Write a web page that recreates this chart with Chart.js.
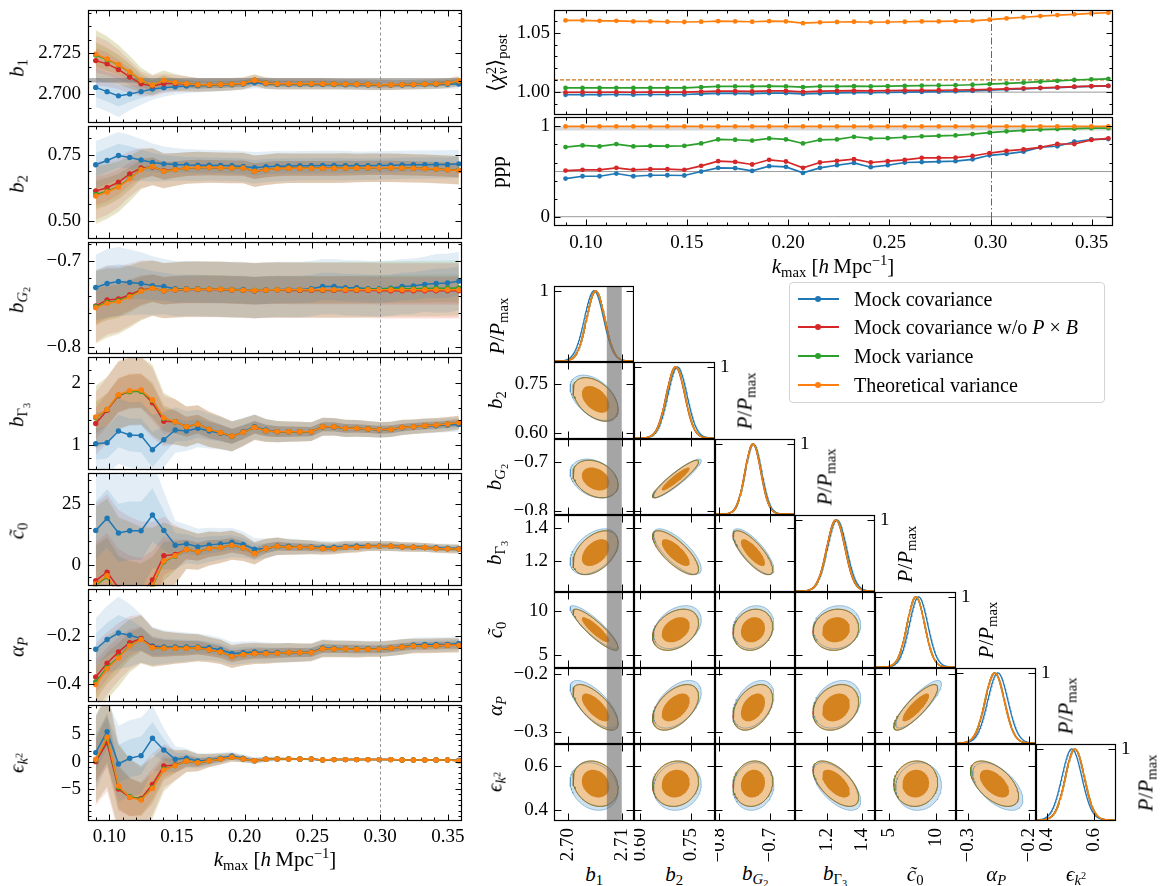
<!DOCTYPE html>
<html>
<head>
<meta charset="utf-8">
<script src="https://cdn.jsdelivr.net/npm/chart.js@4.4.1/dist/chart.umd.min.js"></script>
<style>
body { margin: 0; background: #fff; }
#fig { position: relative; width: 1163px; height: 886px; overflow: hidden; font-family: 'Liberation Serif', 'DejaVu Serif', serif; color: #000; }
#fig canvas { position: absolute; }
.lab { position: absolute; white-space: nowrap; line-height: 1; }
.lab sub { font-size: 70%; vertical-align: -0.3em; line-height: 0; }
.lab sup { font-size: 70%; vertical-align: 0.5em; line-height: 0; }
#legend { position: absolute; left: 789px; top: 282px; width: 314px; height: 119px; border: 1px solid #d4d4d4; border-radius: 4px; background: rgba(255,255,255,0.85); }
#legend .row { position: absolute; left: 0; height: 0; }
#legend .ln { position: absolute; left: 8px; width: 41px; height: 2px; top: -1px; }
#legend .dot { position: absolute; left: 25px; width: 6px; height: 6px; top: -3px; border-radius: 50%; }
#legend .tx { position: absolute; left: 64px; top: -12px; font-size: 20px; white-space: nowrap; line-height: 24px; }
</style>
</head>
<body>
<div id="fig"></div>
<script>
// ---------- data: k_max bins ----------
const kmax = [0.0900,0.0984,0.1068,0.1151,0.1235,0.1319,0.1403,0.1487,0.1570,0.1654,
  0.1738,0.1822,0.1906,0.1989,0.2073,0.2157,0.2241,0.2325,0.2408,0.2492,
  0.2576,0.2660,0.2744,0.2827,0.2911,0.2995,0.3079,0.3163,0.3246,0.3330,
  0.3414,0.3498,0.3582];
const kTicks = [0.10, 0.15, 0.20, 0.25, 0.30, 0.35];
const kCut = 0.30;

// b1
const b1Blue = [2.7042,2.7016,2.6990,2.7002,2.7016,2.7032,2.7040,2.7046,2.7050,2.7052,2.7054,
  2.7056,2.7058,2.7062,2.7070,2.7064,2.7060,2.7060,2.7060,2.7060,2.7060,2.7059,
  2.7058,2.7058,2.7057,2.7056,2.7056,2.7057,2.7058,2.7059,2.7060,2.7061,2.7062];
const b1Red = [2.7206,2.7186,2.7152,2.7106,2.7064,2.7050,2.7066,2.7066,2.7062,2.7058,2.7058,
  2.7060,2.7062,2.7066,2.7084,2.7068,2.7064,2.7064,2.7064,2.7064,2.7064,2.7063,
  2.7062,2.7061,2.7060,2.7058,2.7058,2.7059,2.7060,2.7062,2.7064,2.7067,2.7078];
const b1Green = [2.7240,2.7212,2.7180,2.7134,2.7084,2.7056,2.7085,2.7072,2.7064,2.7058,2.7058,
  2.7060,2.7062,2.7066,2.7086,2.7068,2.7064,2.7064,2.7064,2.7064,2.7064,2.7063,
  2.7062,2.7061,2.7060,2.7058,2.7058,2.7059,2.7060,2.7062,2.7064,2.7068,2.7080];
const b1Orange = [2.7246,2.7216,2.7182,2.7136,2.7086,2.7056,2.7086,2.7072,2.7064,2.7058,2.7058,
  2.7060,2.7062,2.7066,2.7086,2.7068,2.7064,2.7064,2.7064,2.7064,2.7064,2.7063,
  2.7062,2.7061,2.7060,2.7058,2.7058,2.7059,2.7060,2.7062,2.7064,2.7068,2.7082];
const b1SigBlue = [0.0060,0.0060,0.0065,0.0050,0.0040,0.0033,0.0028,0.0024,0.0022,0.0020,0.0020,
  0.0019,0.0018,0.0017,0.0017,0.0016,0.0016,0.0016,0.0016,0.0016,0.0016,0.0016,
  0.0016,0.0016,0.0016,0.0016,0.0015,0.0015,0.0015,0.0015,0.0014,0.0014,0.0014];
const b1SigOrange = [0.0075,0.0070,0.0060,0.0050,0.0038,0.0032,0.0030,0.0026,0.0023,0.0021,0.0020,
  0.0020,0.0019,0.0018,0.0018,0.0017,0.0017,0.0017,0.0017,0.0017,0.0017,0.0016,
  0.0016,0.0016,0.0016,0.0016,0.0016,0.0015,0.0015,0.0015,0.0015,0.0015,0.0015];
const b1Truth = [2.7072, 2.7100];
const b1Ticks = [2.700, 2.725];

// b2
const b2Blue = [0.7125,0.7290,0.7475,0.7400,0.7310,0.7210,0.7160,0.7140,0.7120,0.7110,0.7110,
  0.7100,0.7090,0.7060,0.7010,0.7050,0.7070,0.7080,0.7090,0.7090,0.7100,0.7100,
  0.7090,0.7090,0.7090,0.7100,0.7110,0.7120,0.7130,0.7130,0.7140,0.7140,0.7160];
const b2Red = [0.613,0.625,0.646,0.678,0.700,0.704,0.690,0.695,0.700,0.702,0.702,
  0.701,0.700,0.700,0.688,0.694,0.698,0.699,0.699,0.699,0.699,0.699,
  0.700,0.700,0.701,0.701,0.701,0.700,0.699,0.698,0.696,0.694,0.691];
const b2Green = [0.600,0.612,0.630,0.661,0.695,0.706,0.688,0.694,0.700,0.702,0.702,
  0.701,0.700,0.700,0.688,0.694,0.698,0.699,0.699,0.699,0.699,0.699,
  0.700,0.700,0.701,0.701,0.701,0.700,0.699,0.698,0.696,0.694,0.692];
const b2Orange = [0.594,0.609,0.628,0.659,0.694,0.706,0.688,0.694,0.700,0.702,0.702,
  0.701,0.700,0.700,0.688,0.694,0.698,0.699,0.699,0.699,0.699,0.699,
  0.700,0.700,0.701,0.701,0.701,0.700,0.699,0.698,0.696,0.694,0.691];
const b2SigBlue = [0.045,0.045,0.045,0.043,0.040,0.036,0.033,0.031,0.030,0.030,0.029,
  0.029,0.029,0.029,0.030,0.029,0.029,0.028,0.028,0.028,0.028,0.028,
  0.028,0.027,0.027,0.027,0.027,0.027,0.027,0.027,0.027,0.027,0.027];
const b2SigOrange = [0.055,0.052,0.048,0.043,0.038,0.035,0.033,0.031,0.030,0.030,0.029,
  0.029,0.029,0.029,0.030,0.029,0.029,0.028,0.028,0.028,0.028,0.028,
  0.028,0.027,0.027,0.027,0.027,0.027,0.027,0.027,0.027,0.027,0.027];
const b2Ticks = [0.50, 0.75];

// b_G2
const bG2Blue = [-0.7307,-0.7260,-0.7237,-0.7248,-0.7260,-0.7285,-0.7296,-0.7320,-0.7320,-0.7320,-0.7325,
  -0.7330,-0.7330,-0.7330,-0.7345,-0.7335,-0.7330,-0.7330,-0.7330,-0.7320,-0.7296,-0.7296,
  -0.7310,-0.7310,-0.7320,-0.7322,-0.7315,-0.7296,-0.7290,-0.7270,-0.7260,-0.7255,-0.7233];
const bG2Red = [-0.7520,-0.7450,-0.7440,-0.7390,-0.7335,-0.7315,-0.7344,-0.7335,-0.7330,-0.7330,-0.7330,
  -0.7330,-0.7335,-0.7340,-0.7345,-0.7340,-0.7337,-0.7340,-0.7340,-0.7340,-0.7340,-0.7340,
  -0.7340,-0.7340,-0.7340,-0.7345,-0.7345,-0.7345,-0.7345,-0.7345,-0.7345,-0.7345,-0.7345];
const bG2Green = [-0.7530,-0.7480,-0.7460,-0.7410,-0.7348,-0.7315,-0.7344,-0.7333,-0.7326,-0.7326,-0.7326,
  -0.7326,-0.7333,-0.7337,-0.7341,-0.7337,-0.7333,-0.7333,-0.7333,-0.7333,-0.7333,-0.7333,
  -0.7330,-0.7330,-0.7328,-0.7325,-0.7322,-0.7320,-0.7320,-0.7318,-0.7316,-0.7314,-0.7312];
const bG2Orange = [-0.7540,-0.7490,-0.7470,-0.7415,-0.7350,-0.7315,-0.7344,-0.7333,-0.7326,-0.7326,-0.7326,
  -0.7326,-0.7333,-0.7337,-0.7341,-0.7337,-0.7333,-0.7333,-0.7333,-0.7333,-0.7333,-0.7333,
  -0.7333,-0.7333,-0.7333,-0.7333,-0.7333,-0.7333,-0.7333,-0.7333,-0.7333,-0.7333,-0.7333];
const bG2SigBlue = [0.019,0.020,0.020,0.019,0.018,0.017,0.016,0.016,0.016,0.016,0.016,
  0.016,0.016,0.016,0.016,0.016,0.016,0.016,0.016,0.016,0.016,0.016,
  0.016,0.016,0.016,0.016,0.016,0.016,0.016,0.016,0.017,0.017,0.017];
const bG2SigOrange = [0.021,0.020,0.019,0.018,0.017,0.016,0.016,0.016,0.016,0.016,0.016,
  0.016,0.016,0.016,0.016,0.016,0.016,0.016,0.016,0.016,0.016,0.016,
  0.016,0.016,0.016,0.016,0.016,0.016,0.016,0.016,0.016,0.016,0.016];
const bG2Ticks = [-0.8, -0.7];

// b_Gamma3
const bT3Blue = [1.026,1.042,1.229,1.167,1.156,0.932,1.089,1.245,1.229,1.271,1.229,
  1.193,1.141,1.219,1.297,1.245,1.219,1.219,1.219,1.219,1.297,1.292,
  1.271,1.271,1.260,1.245,1.255,1.281,1.297,1.307,1.313,1.323,1.333];
const bT3Red = [1.349,1.560,1.790,1.860,1.865,1.677,1.385,1.375,1.297,1.339,1.255,
  1.203,1.146,1.208,1.286,1.234,1.219,1.219,1.219,1.219,1.297,1.297,
  1.271,1.271,1.260,1.250,1.255,1.286,1.297,1.313,1.323,1.339,1.360];
const bT3Green = [1.440,1.570,1.800,1.855,1.860,1.715,1.430,1.375,1.297,1.339,1.255,
  1.203,1.146,1.208,1.286,1.234,1.219,1.219,1.219,1.219,1.297,1.297,
  1.271,1.271,1.260,1.250,1.255,1.286,1.297,1.313,1.323,1.339,1.362];
const bT3Orange = [1.453,1.573,1.807,1.870,1.880,1.724,1.438,1.375,1.297,1.339,1.255,
  1.203,1.146,1.208,1.286,1.234,1.219,1.219,1.219,1.219,1.297,1.297,
  1.271,1.271,1.260,1.250,1.255,1.286,1.297,1.313,1.323,1.339,1.365];
const bT3SigBlue = [0.25,0.25,0.26,0.26,0.27,0.28,0.22,0.18,0.16,0.15,0.14,
  0.13,0.12,0.11,0.10,0.090,0.085,0.080,0.078,0.075,0.072,0.070,
  0.068,0.066,0.064,0.062,0.060,0.060,0.058,0.058,0.056,0.056,0.055];
const bT3SigOrange = [0.25,0.26,0.27,0.27,0.27,0.28,0.20,0.18,0.16,0.15,0.14,
  0.13,0.12,0.11,0.10,0.090,0.085,0.080,0.078,0.075,0.072,0.070,
  0.068,0.066,0.064,0.062,0.060,0.060,0.058,0.058,0.056,0.056,0.055];
const bT3Ticks = [1, 2];

// c0
const c0Blue = [14.19,19.19,13.11,14.05,14.05,20.54,14.19,8.11,8.65,7.43,8.24,
  8.65,9.19,8.38,6.49,6.76,7.70,7.70,7.30,7.43,7.30,7.30,
  7.57,7.84,7.84,7.84,7.70,7.43,7.30,7.16,7.03,6.90,6.76];
const c0Red = [-6.49,-2.97,-9.46,-12.16,-12.16,-6.22,3.78,4.32,6.35,5.41,6.76,
  7.16,8.11,7.03,4.73,6.76,7.70,7.30,7.30,7.16,6.76,6.76,
  7.30,7.30,7.70,7.70,7.70,7.43,7.30,7.16,6.76,6.60,6.49];
const c0Green = [-8.30,-4.90,-12.50,-14.50,-14.50,-8.80,1.30,3.60,6.35,5.41,6.76,
  7.16,8.11,7.03,4.73,6.76,7.70,7.30,7.30,7.16,6.76,6.76,
  7.30,7.30,7.70,7.70,7.70,7.43,7.30,7.16,6.76,6.60,6.49];
const c0Orange = [-7.84,-4.46,-12.16,-14.19,-14.19,-8.38,1.62,3.78,6.35,5.41,6.76,
  7.16,8.11,7.03,4.73,6.76,7.70,7.30,7.30,7.16,6.76,6.76,
  7.30,7.30,7.70,7.70,7.70,7.43,7.30,7.16,6.76,6.60,6.49];
const c0SigBlue = [12,12,12,12,12,11,8,5,4,3.7,3.5,
  3.2,3.0,2.7,2.3,2.0,1.8,1.6,1.5,1.4,1.3,1.2,
  1.2,1.1,1.0,1.0,1.0,0.95,0.95,0.9,0.9,0.9,0.9];
const c0SigOrange = [16,16,16,16,15,12,8,6,4,3.7,3.5,
  3.2,3.0,2.7,2.3,2.0,1.8,1.6,1.5,1.4,1.3,1.2,
  1.2,1.1,1.0,1.0,1.0,0.95,0.95,0.9,0.9,0.9,0.9];
const c0Ticks = [0, 25];

// alpha_P
const aPBlue = [-0.2541,-0.2135,-0.1865,-0.1959,-0.2095,-0.2405,-0.2446,-0.2446,-0.2446,-0.2446,-0.2480,
  -0.2560,-0.2716,-0.2680,-0.2649,-0.2676,-0.2676,-0.2676,-0.2676,-0.2649,-0.2486,-0.2500,
  -0.2514,-0.2514,-0.2514,-0.2514,-0.2500,-0.2432,-0.2365,-0.2338,-0.2338,-0.2338,-0.2297];
const aPRed = [-0.369,-0.312,-0.265,-0.227,-0.2095,-0.2446,-0.2500,-0.2500,-0.2500,-0.2473,-0.2560,
  -0.2649,-0.2838,-0.2757,-0.2716,-0.2716,-0.2703,-0.2676,-0.2676,-0.2676,-0.2514,-0.2527,
  -0.2527,-0.2541,-0.2541,-0.2541,-0.2500,-0.2446,-0.2405,-0.2405,-0.2392,-0.2378,-0.2378];
const aPGreen = [-0.390,-0.330,-0.287,-0.238,-0.2135,-0.2473,-0.2500,-0.2500,-0.2500,-0.2473,-0.2560,
  -0.2649,-0.2838,-0.2757,-0.2716,-0.2716,-0.2703,-0.2676,-0.2676,-0.2676,-0.2514,-0.2527,
  -0.2527,-0.2541,-0.2541,-0.2541,-0.2500,-0.2446,-0.2405,-0.2405,-0.2392,-0.2378,-0.2378];
const aPOrange = [-0.400,-0.335,-0.2905,-0.2405,-0.2135,-0.2473,-0.2500,-0.2500,-0.2500,-0.2473,-0.2560,
  -0.2649,-0.2838,-0.2757,-0.2716,-0.2716,-0.2703,-0.2676,-0.2676,-0.2676,-0.2514,-0.2527,
  -0.2527,-0.2541,-0.2541,-0.2541,-0.2500,-0.2446,-0.2405,-0.2405,-0.2392,-0.2378,-0.2378];
const aPSigBlue = [0.065,0.070,0.075,0.065,0.050,0.040,0.035,0.032,0.030,0.028,0.026,
  0.025,0.024,0.023,0.022,0.021,0.020,0.020,0.019,0.018,0.018,0.017,
  0.017,0.017,0.016,0.016,0.016,0.016,0.015,0.015,0.015,0.015,0.015];
const aPSigOrange = [0.070,0.065,0.060,0.055,0.050,0.040,0.035,0.032,0.030,0.028,0.026,
  0.025,0.024,0.023,0.022,0.021,0.020,0.020,0.019,0.018,0.018,0.017,
  0.017,0.017,0.016,0.016,0.016,0.016,0.015,0.015,0.015,0.015,0.015];
const aPTicks = [-0.4, -0.2];

// eps_k2
const ek2Blue = [1.66,5.52,-0.43,0.61,1.10,4.29,2.15,0.43,0.61,0.12,0.31,
  0.61,1.04,0.61,0.18,0.43,0.49,0.49,0.43,0.43,0.31,0.37,
  0.37,0.37,0.37,0.37,0.37,0.31,0.31,0.31,0.31,0.31,0.25];
const ek2Red = [0.00,3.50,-5.03,-6.56,-6.75,-4.17,-0.80,-0.61,0.12,-0.18,0.18,
  0.49,0.80,0.49,0.18,0.43,0.49,0.49,0.49,0.49,0.31,0.37,
  0.37,0.37,0.37,0.37,0.37,0.31,0.31,0.31,0.31,0.31,0.18];
const ek2Green = [0.30,4.30,-4.70,-6.40,-6.90,-4.80,-1.40,-0.70,0.12,-0.18,0.18,
  0.49,0.80,0.49,0.18,0.43,0.49,0.49,0.49,0.49,0.31,0.37,
  0.37,0.37,0.37,0.37,0.37,0.31,0.31,0.31,0.31,0.31,0.18];
const ek2Orange = [0.43,4.48,-4.48,-6.56,-7.06,-4.91,-1.53,-0.74,0.12,-0.18,0.18,
  0.49,0.80,0.49,0.18,0.43,0.49,0.49,0.49,0.49,0.31,0.37,
  0.37,0.37,0.37,0.37,0.37,0.31,0.31,0.31,0.31,0.31,0.18];
const ek2SigBlue = [3.5,3.0,3.5,3.5,3.5,3.0,2.0,1.2,0.9,0.7,0.6,
  0.5,0.4,0.35,0.3,0.25,0.2,0.15,0.12,0.1,0.08,0.07,
  0.06,0.06,0.05,0.05,0.05,0.05,0.05,0.05,0.05,0.05,0.05];
const ek2SigOrange = [4.0,4.5,4.0,3.5,3.0,2.8,2.0,1.4,1.0,0.8,0.6,
  0.5,0.4,0.3,0.25,0.2,0.15,0.12,0.1,0.08,0.07,0.06,
  0.06,0.05,0.05,0.05,0.05,0.05,0.05,0.05,0.05,0.05,0.05];
const ek2Ticks = [-5, 0, 5];

// reduced chi2 and ppp
const chi2Blue = [0.9978,0.9979,0.9979,0.9980,0.9979,0.9980,0.9980,0.9980,0.9985,0.9990,0.9990,
  0.9988,0.9992,0.9992,0.9985,0.9990,0.9993,0.9996,0.9995,0.9998,1.0000,1.0002,
  1.0004,1.0007,1.0010,1.0016,1.0022,1.0028,1.0034,1.0038,1.0044,1.0049,1.0052];
const chi2Red = [0.9998,0.9999,0.9999,1.0000,0.9999,1.0000,1.0000,1.0000,1.0005,1.0008,1.0008,
  1.0006,1.0010,1.0010,1.0003,1.0008,1.0010,1.0012,1.0010,1.0012,1.0014,1.0015,
  1.0016,1.0018,1.0020,1.0024,1.0028,1.0032,1.0036,1.0040,1.0046,1.0050,1.0053];
const chi2Green = [1.0035,1.0035,1.0035,1.0036,1.0035,1.0035,1.0035,1.0036,1.0042,1.0048,1.0048,
  1.0048,1.0050,1.0048,1.0042,1.0048,1.0048,1.0050,1.0048,1.0050,1.0052,1.0054,
  1.0056,1.0058,1.0062,1.0068,1.0074,1.0080,1.0088,1.0095,1.0102,1.0108,1.0112];
const chi2Orange = [1.0603,1.0603,1.0600,1.0600,1.0595,1.0595,1.0592,1.0590,1.0592,1.0597,1.0595,
  1.0592,1.0597,1.0595,1.0580,1.0587,1.0590,1.0592,1.0588,1.0590,1.0592,1.0595,
  1.0595,1.0597,1.0600,1.0610,1.0620,1.0630,1.0640,1.0648,1.0655,1.0662,1.0668];
const chi2Unity = 1.0;
const chi2Expected = 1.0103;
const chi2Ticks = [1.00, 1.05];

const pppBlue = [0.422,0.448,0.448,0.478,0.448,0.459,0.459,0.456,0.500,0.541,0.537,
  0.507,0.559,0.552,0.485,0.541,0.570,0.596,0.548,0.570,0.600,0.605,
  0.610,0.615,0.635,0.680,0.695,0.720,0.770,0.780,0.830,0.855,0.860];
const pppRed = [0.511,0.519,0.519,0.541,0.519,0.526,0.526,0.519,0.563,0.615,0.607,
  0.578,0.630,0.611,0.541,0.600,0.619,0.637,0.600,0.615,0.630,0.652,
  0.652,0.655,0.672,0.705,0.728,0.745,0.768,0.805,0.805,0.850,0.868];
const pppGreen = [0.771,0.789,0.778,0.804,0.778,0.785,0.782,0.785,0.811,0.856,0.852,
  0.843,0.867,0.856,0.811,0.850,0.856,0.885,0.867,0.870,0.880,0.890,
  0.895,0.900,0.915,0.930,0.945,0.955,0.965,0.970,0.975,0.980,0.980];
const pppOrange = [1,1,1,1,1,1,1,1,1,1,1,
  1,1,1,1,1,1,1,1,1,1,1,
  1,1,1,1,1,1,1,1,1,1,1];
const pppLevels = [0, 0.5];
const pppBand = [0.955, 1.0];
const pppTicks = [0, 1];

// corner plot at k_max = 0.30: b1, b2, bG2, bG3, c0, alphaP, eps_k2
const cornerMeanBlue   = [2.7048, 0.709, -0.733, 1.258, 8.15, -0.2515, 0.506];
const cornerMeanRed    = [2.7051, 0.703, -0.7345, 1.250, 7.85, -0.2565, 0.518];
const cornerMeanGreen  = [2.7051, 0.704, -0.734, 1.252, 7.85, -0.257, 0.519];
const cornerMeanOrange = [2.7051, 0.704, -0.734, 1.252, 7.85, -0.257, 0.519];
const cornerSigBlue = [0.0018, 0.028, 0.016, 0.055, 0.97, 0.0165, 0.043];
const cornerSig     = [0.0017, 0.027, 0.0155, 0.053, 0.93, 0.0158, 0.041];
const cornerCorr = [
  [1],
  [-0.45, 1],
  [-0.30, 0.92, 1],
  [0.45, -0.75, -0.78, 1],
  [-0.88, 0.35, 0.15, 0.10, 1],
  [-0.70, 0.50, 0.40, 0.25, 0.85, 1],
  [-0.20, 0.10, 0.10, -0.60, 0.05, -0.55, 1]
];
const cornerTicks = [[2.70, 2.71], [0.60, 0.75], [-0.8, -0.7], [1.2, 1.4], [5, 10], [-0.3, -0.2], [0.4, 0.6]];
const legendNames = ['Mock covariance', 'Mock covariance w/o <i>P</i> \u00d7 <i>B</i>', 'Mock variance', 'Theoretical variance'];

// ---------- styling / helpers ----------
Chart.defaults.font.family = "'Liberation Serif', 'DejaVu Serif', serif";
Chart.defaults.font.size = 19;
Chart.defaults.color = '#000';

const fig = document.getElementById('fig');
const COLS = ['#1f77b4', '#d62728', '#2ca02c', '#ff7f0e'];
const NONE = 'rgba(0,0,0,0)';
const DASH = {dash: [3, 2.5], dashdot: [7, 2.5, 1.5, 2.5]};

function rgba(hex, a) {
  const n = parseInt(hex.slice(1), 16);
  return 'rgba(' + (n >> 16) + ',' + ((n >> 8) & 255) + ',' + (n & 255) + ',' + a + ')';
}
function fmt(v, d) {
  return (v < -1e-12 ? '\u2212' : '') + Math.abs(v).toFixed(d);
}

// frame with inward ticks on chosen sides + optional vertical marker
const framePlugin = {
  id: 'frame',
  afterDatasetsDraw(chart, args, o) {
    const ctx = chart.ctx, a = chart.chartArea, xs = chart.scales.x, ys = chart.scales.y;
    const L = Math.round(a.left) + 0.5, R = Math.round(a.right) - 0.5;
    const T = Math.round(a.top) + 0.5, B = Math.round(a.bottom) - 0.5;
    const seg = (x1, y1, x2, y2) => { ctx.beginPath(); ctx.moveTo(x1, y1); ctx.lineTo(x2, y2); ctx.stroke(); };
    ctx.save();
    if (o.vline != null) {
      const p = Math.round(xs.getPixelForValue(o.vline)) + 0.5;
      ctx.strokeStyle = o.vcolor; ctx.lineWidth = 0.9; ctx.setLineDash(DASH[o.vstyle]);
      seg(p, T, p, B);
      ctx.setLineDash([]);
    }
    ctx.strokeStyle = '#000'; ctx.lineWidth = 1;
    const xt = (v, len) => {
      const p = Math.round(xs.getPixelForValue(v)) + 0.5;
      if (p < L + 2 || p > R - 2) return;
      if (o.xSides.indexOf('b') >= 0) seg(p, B, p, B - len);
      if (o.xSides.indexOf('t') >= 0) seg(p, T, p, T + len);
    };
    const yt = (v, len) => {
      const p = Math.round(ys.getPixelForValue(v)) + 0.5;
      if (p < T + 2 || p > B - 2) return;
      if (o.ySides.indexOf('l') >= 0) seg(L, p, L + len, p);
      if (o.ySides.indexOf('r') >= 0) seg(R, p, R - len, p);
    };
    xs.ticks.forEach(t => xt(t.value, o.major));
    ys.ticks.forEach(t => yt(t.value, o.major));
    if (o.xMinor) for (let i = Math.ceil(xs.min / o.xMinor - 1e-6); i * o.xMinor <= xs.max; i++) xt(i * o.xMinor, o.minor);
    if (o.yMinor) for (let i = Math.ceil(ys.min / o.yMinor - 1e-6); i * o.yMinor <= ys.max; i++) yt(i * o.yMinor, o.minor);
    ctx.lineWidth = 1.2;
    ctx.strokeRect(L, T, R - L, B - T);
    ctx.restore();
  }
};

function axis(a, size, isX) {
  return {
    type: 'linear', position: a.pos || (isX ? 'bottom' : 'left'), min: a.min, max: a.max,
    grid: {display: false, drawTicks: false}, border: {display: false},
    ticks: {display: !!a.show, autoSkip: false, padding: a.pad == null ? 5 : a.pad,
      minRotation: a.rot || 0, maxRotation: a.rot || 0, color: '#000', font: {size: 19},
      callback: v => fmt(v, a.dec)},
    afterBuildTicks: s => { s.ticks = a.ticks.map(v => ({value: v})); },
    afterFit: s => {
      if (isX) s.height = size; else s.width = size;
      s.paddingLeft = 0; s.paddingRight = 0; s.paddingTop = 0; s.paddingBottom = 0;
    }
  };
}

function panel(o) {
  const W = o.w + o.ml + o.mr, H = o.h + o.mt + o.mb;
  const cv = document.createElement('canvas');
  cv.width = W; cv.height = H;
  cv.style.left = (o.x - o.ml) + 'px'; cv.style.top = (o.y - o.mt) + 'px';
  cv.style.width = W + 'px'; cv.style.height = H + 'px';
  fig.appendChild(cv);
  const yRight = o.y_.pos === 'right';
  return new Chart(cv, {
    type: 'line',
    data: {datasets: o.datasets},
    options: {
      responsive: false, animation: false, devicePixelRatio: 1, events: [],
      layout: {padding: {left: yRight ? o.ml : 0, right: yRight ? 0 : o.mr, top: o.mt, bottom: 0}},
      plugins: {legend: {display: false}, tooltip: {enabled: false}, frame: o.frame},
      scales: {x: axis(o.x_, o.mb, true), y: axis(o.y_, yRight ? o.mr : o.ml, false)}
    },
    plugins: [framePlugin]
  });
}

function addLabel(html, cx, cy, rot, size) {
  const d = document.createElement('div');
  d.className = 'lab';
  d.innerHTML = html;
  d.style.left = cx + 'px'; d.style.top = cy + 'px';
  d.style.fontSize = (size || 21) + 'px';
  d.style.transform = 'translate(-50%,-50%) rotate(' + (rot || 0) + 'deg)';
  fig.appendChild(d);
}

function lineSet(vals, color, order, r, w) {
  return {data: kmax.map((k, i) => ({x: k, y: vals[i]})), borderColor: color, backgroundColor: color,
    borderWidth: w || 1.5, pointRadius: r || 2.7, pointBorderWidth: 0, pointHoverRadius: 0, fill: false, order: order};
}
function flatSet(yv, color, order, dash, w) {
  return {data: [{x: kRange[0], y: yv}, {x: kRange[1], y: yv}], borderColor: color, borderWidth: w || 1,
    borderDash: dash || [], pointRadius: 0, fill: false, order: order};
}

// ---------- left column: parameters vs k_max ----------
const kRange = [0.0843, 0.3605];
const leftPanels = [
  {lab: '<i>b</i><sub>1</sub>', range: [2.6822, 2.7516], ticks: b1Ticks, dec: 3, minor: 0.025 / 3,
   mean: [b1Blue, b1Red, b1Green, b1Orange], sig: [b1SigBlue, b1SigOrange, b1SigOrange, b1SigOrange], band: b1Truth},
  {lab: '<i>b</i><sub>2</sub>', range: [0.429, 0.86], ticks: b2Ticks, dec: 2, minor: 0.0625,
   mean: [b2Blue, b2Red, b2Green, b2Orange], sig: [b2SigBlue, b2SigOrange, b2SigOrange, b2SigOrange]},
  {lab: '<i>b</i><sub><i>G</i><sub>2</sub></sub>', range: [-0.808, -0.678], ticks: bG2Ticks, dec: 1, minor: 0.02,
   mean: [bG2Blue, bG2Red, bG2Green, bG2Orange], sig: [bG2SigBlue, bG2SigOrange, bG2SigOrange, bG2SigOrange]},
  {lab: '<i>b</i><sub>\u0393<sub>3</sub></sub>', range: [0.604, 2.406], ticks: bT3Ticks, dec: 0, minor: 0.2,
   mean: [bT3Blue, bT3Red, bT3Green, bT3Orange], sig: [bT3SigBlue, bT3SigOrange, bT3SigOrange, bT3SigOrange]},
  {lab: '<i>c\u0303</i><sub>0</sub>', range: [-8.8, 37.8], ticks: c0Ticks, dec: 0, minor: 5,
   mean: [c0Blue, c0Red, c0Green, c0Orange], sig: [c0SigBlue, c0SigOrange, c0SigOrange, c0SigOrange]},
  {lab: '<i>\u03b1</i><sub><i>P</i></sub>', range: [-0.474, -0.004], ticks: aPTicks, dec: 1, minor: 0.05,
   mean: [aPBlue, aPRed, aPGreen, aPOrange], sig: [aPSigBlue, aPSigOrange, aPSigOrange, aPSigOrange]},
  {lab: '<i>\u03f5</i><sub><i>k</i><sup>2</sup></sub>', range: [-10.9, 10.4], ticks: ek2Ticks, dec: 0, minor: 1,
   mean: [ek2Blue, ek2Red, ek2Green, ek2Orange], sig: [ek2SigBlue, ek2SigOrange, ek2SigOrange, ek2SigOrange]}
];

function leftDatasets(p) {
  const ds = [];
  p.mean.forEach((m, s) => {
    [2, 1].forEach(n => {
      ds.push({data: kmax.map((k, i) => ({x: k, y: m[i] + n * p.sig[s][i]})), borderColor: NONE, borderWidth: 0,
        pointRadius: 0, fill: false, order: 50});
      ds.push({data: kmax.map((k, i) => ({x: k, y: m[i] - n * p.sig[s][i]})), borderColor: NONE, borderWidth: 0,
        pointRadius: 0, fill: '-1', backgroundColor: rgba(COLS[s], 0.13), order: 50});
    });
  });
  if (p.band) {
    ds.push({data: kRange.map(k => ({x: k, y: p.band[1]})), borderColor: NONE, borderWidth: 0, pointRadius: 0, fill: false, order: 20});
    ds.push({data: kRange.map(k => ({x: k, y: p.band[0]})), borderColor: NONE, borderWidth: 0, pointRadius: 0, fill: '-1',
      backgroundColor: 'rgba(120,120,120,0.55)', order: 20});
  }
  p.mean.forEach((m, s) => ds.push(lineSet(m, COLS[s], 4 - s)));
  return ds;
}

const LX = 88, LW = 374, LT = 10, LH = 115.8;
leftPanels.forEach((p, i) => {
  const top = Math.round(LT + i * LH), bot = Math.round(LT + (i + 1) * LH);
  const last = i === leftPanels.length - 1;
  panel({x: LX, y: top, w: LW, h: bot - top, ml: 88, mr: 8, mt: 4, mb: last ? 40 : 0,
    datasets: leftDatasets(p),
    x_: {min: kRange[0], max: kRange[1], ticks: kTicks, dec: 2, show: last, pad: 5},
    y_: {min: p.range[0], max: p.range[1], ticks: p.ticks, dec: p.dec, show: true, pad: 7},
    frame: {major: 6, minor: 3, xMinor: 0.01, yMinor: p.minor, xSides: 'tb', ySides: 'lr',
      vline: kCut, vstyle: 'dash', vcolor: '#8a8a8a'}});
  addLabel(p.lab, 17, (top + bot) / 2, -90);
});
addLabel('<i>k</i><sub>max</sub> [<i>h</i>&#8201;Mpc<sup>\u22121</sup>]', 275, 859, 0);

// ---------- top right: chi2 and ppp ----------
const TX = 554, TW = 559;
panel({x: TX, y: 10, w: TW, h: 107, ml: 70, mr: 8, mt: 4, mb: 0,
  datasets: [flatSet(chi2Unity, '#9a9a9a', 12), flatSet(chi2Expected, '#c8741a', 11, [4, 2], 1.4),
    lineSet(chi2Blue, COLS[0], 4, 2.4, 1.7), lineSet(chi2Red, COLS[1], 3, 2.4, 1.7),
    lineSet(chi2Green, COLS[2], 2, 2.4, 1.7), lineSet(chi2Orange, COLS[3], 1, 2.4, 1.7)],
  x_: {min: kRange[0], max: kRange[1], ticks: kTicks, dec: 2, show: false},
  y_: {min: 0.9811, max: 1.0691, ticks: chi2Ticks, dec: 2, show: true, pad: 4},
  frame: {major: 6, minor: 3, xMinor: 0.01, yMinor: 0.01, xSides: 'tb', ySides: 'lr',
    vline: kCut, vstyle: 'dashdot', vcolor: '#555'}});
panel({x: TX, y: 117, w: TW, h: 109, ml: 70, mr: 8, mt: 4, mb: 40,
  datasets: [
    {data: kRange.map(k => ({x: k, y: pppBand[1]})), borderColor: NONE, borderWidth: 0, pointRadius: 0, fill: false, order: 30},
    {data: kRange.map(k => ({x: k, y: pppBand[0]})), borderColor: NONE, borderWidth: 0, pointRadius: 0, fill: '-1',
      backgroundColor: '#d9d9d9', order: 30},
    flatSet(pppLevels[0], '#9a9a9a', 12), flatSet(pppLevels[1], '#9a9a9a', 12),
    lineSet(pppBlue, COLS[0], 4, 2.4, 1.7), lineSet(pppRed, COLS[1], 3, 2.4, 1.7),
    lineSet(pppGreen, COLS[2], 2, 2.4, 1.7), lineSet(pppOrange, COLS[3], 1, 2.4, 1.7)],
  x_: {min: kRange[0], max: kRange[1], ticks: kTicks, dec: 2, show: true, pad: 6},
  y_: {min: -0.103, max: 1.104, ticks: pppTicks, dec: 0, show: true, pad: 4},
  frame: {major: 6, minor: 3, xMinor: 0.01, yMinor: 0.2, xSides: 'tb', ySides: 'lr',
    vline: kCut, vstyle: 'dashdot', vcolor: '#555'}});
addLabel('\u27e8<i>\u03c7</i><span style="display:inline-block;vertical-align:-0.35em;line-height:0.75;font-size:70%;text-align:left">2<br><i>\u03bd</i></span>\u27e9<sub>post</sub>', 497, 63, -90);
addLabel('ppp', 498, 172, -90);
addLabel('<i>k</i><sub>max</sub> [<i>h</i>&#8201;Mpc<sup>\u22121</sup>]', 833, 266, 0);

// ---------- corner plot ----------
const cornerRange = [[2.6973, 2.7123], [0.582, 0.819], [-0.808, -0.652], [1.015, 1.478], [3.55, 12.1], [-0.320, -0.189], [0.351, 0.697]];
const cornerDec = [2, 2, 1, 1, 0, 1, 1];
const cornerLabels = ['<i>b</i><sub>1</sub>', '<i>b</i><sub>2</sub>', '<i>b</i><sub><i>G</i><sub>2</sub></sub>',
  '<i>b</i><sub>\u0393<sub>3</sub></sub>', '<i>c\u0303</i><sub>0</sub>', '<i>\u03b1</i><sub><i>P</i></sub>',
  '<i>\u03f5</i><sub><i>k</i><sup>2</sup></sub>'];
const cornerMeans = [cornerMeanBlue, cornerMeanRed, cornerMeanGreen, cornerMeanOrange];
const cornerSigs = [cornerSigBlue, cornerSig, cornerSig, cornerSig];
const R1 = 1.52, R2 = 2.49;  // 68% / 95% radii for 2 parameters
const CX = 554, CW = 80.3, CY = 286, CH = 76.4;
const colL = i => Math.round(CX + i * CW), rowT = i => Math.round(CY + i * CH);

function ellipse(s, c, r, k) {
  const mx = cornerMeans[s][c], my = cornerMeans[s][r], sx = cornerSigs[s][c], sy = cornerSigs[s][r];
  const rho = cornerCorr[r][c], q = Math.sqrt(1 - rho * rho), pts = [];
  for (let j = 0; j <= 90; j++) {
    const t = j / 90 * 2 * Math.PI;
    pts.push({x: mx + k * sx * Math.cos(t), y: my + k * sy * (rho * Math.cos(t) + q * Math.sin(t))});
  }
  return pts;
}
function profile(s, c) {
  const m = cornerMeans[s][c], sg = cornerSigs[s][c], lo = cornerRange[c][0], hi = cornerRange[c][1], pts = [];
  for (let j = 0; j <= 150; j++) {
    const x = lo + (hi - lo) * j / 150;
    pts.push({x: x, y: Math.exp(-0.5 * Math.pow((x - m) / sg, 2))});
  }
  return pts;
}
function truthRect(y0, y1) {
  return {data: [{x: b1Truth[0], y: y0}, {x: b1Truth[0], y: y1}, {x: b1Truth[1], y: y1}, {x: b1Truth[1], y: y0}, {x: b1Truth[0], y: y0}],
    fill: 'shape', backgroundColor: 'rgba(110,110,110,0.62)', borderColor: NONE, borderWidth: 0, pointRadius: 0, order: 0};
}

for (let r = 0; r < 7; r++) {
  for (let c = 0; c <= r; c++) {
    const x = colL(c), w = colL(c + 1) - x, y = rowT(r), h = rowT(r + 1) - y;
    const ds = [];
    const bottom = r === 6;
    if (r === c) {
      for (let s = 0; s < 4; s++) ds.push({data: profile(s, c), borderColor: COLS[s], borderWidth: 1.3, pointRadius: 0, fill: false, order: 10 - s});
      if (c === 0) ds.push(truthRect(-1, 2));
      panel({x: x, y: y, w: w, h: h, ml: r === 0 ? 24 : 0, mr: r === 0 ? 0 : 24, mt: 2, mb: bottom ? 60 : 0,
        datasets: ds,
        x_: {min: cornerRange[c][0], max: cornerRange[c][1], ticks: cornerTicks[c], dec: cornerDec[c], show: bottom, rot: 90, pad: 7},
        y_: {min: -0.015, max: 1.07, ticks: [1], dec: 0, show: true, pad: 5, pos: r === 0 ? 'left' : 'right'},
        frame: {major: 7, minor: 0, xSides: 'b', ySides: 'lr'}});
      if (r === 0) addLabel('<i>P</i>/<i>P</i><sub>max</sub>', 497, y + h / 2 + 2, -90);
      else addLabel('<i>P</i>/<i>P</i><sub>max</sub>', x + w + 30, y + h / 2, -90);
    } else {
      for (let s = 0; s < 3; s++) ds.push({data: ellipse(s, c, r, R2), fill: 'shape', backgroundColor: rgba(COLS[s], 0.22),
        borderColor: NONE, borderWidth: 0, pointRadius: 0, order: 40 - s});
      ds.push({data: ellipse(3, c, r, R2), fill: 'shape', backgroundColor: 'rgba(242,201,152,0.96)',
        borderColor: 'rgba(170,125,55,0.85)', borderWidth: 0.8, pointRadius: 0, order: 30});
      ds.push({data: ellipse(3, c, r, R1), fill: 'shape', backgroundColor: '#d4831f',
        borderColor: NONE, borderWidth: 0, pointRadius: 0, order: 29});
      for (let s = 0; s < 3; s++) ds.push({data: ellipse(s, c, r, R2), fill: false, borderColor: rgba(COLS[s], 0.5),
        borderWidth: 0.8, pointRadius: 0, order: 20 - s});
      if (c === 0) ds.push(truthRect(cornerRange[r][0] - 10, cornerRange[r][1] + 10));
      panel({x: x, y: y, w: w, h: h, ml: c === 0 ? 60 : 0, mr: 0, mt: 2, mb: bottom ? 60 : 0,
        datasets: ds,
        x_: {min: cornerRange[c][0], max: cornerRange[c][1], ticks: cornerTicks[c], dec: cornerDec[c], show: bottom, rot: 90, pad: 7},
        y_: {min: cornerRange[r][0], max: cornerRange[r][1], ticks: cornerTicks[r], dec: cornerDec[r], show: c === 0, pad: 6},
        frame: {major: 7, minor: 0, xSides: 'tb', ySides: 'lr'}});
    }
  }
  if (r > 0) addLabel(cornerLabels[r], 495, rowT(r) + CH / 2, -90);
  addLabel(cornerLabels[r], colL(r) + CW / 2, 874, 0);
}

// ---------- legend ----------
const leg = document.createElement('div');
leg.id = 'legend';
legendNames.forEach((name, s) => {
  const row = document.createElement('div');
  row.className = 'row';
  row.style.top = (15.5 + 28.9 * s) + 'px';
  row.innerHTML = '<span class="ln" style="background:' + COLS[s] + '"></span><span class="dot" style="background:' + COLS[s] +
    '"></span><span class="tx">' + name + '</span>';
  leg.appendChild(row);
});
fig.appendChild(leg);
</script>
</body>
</html>
